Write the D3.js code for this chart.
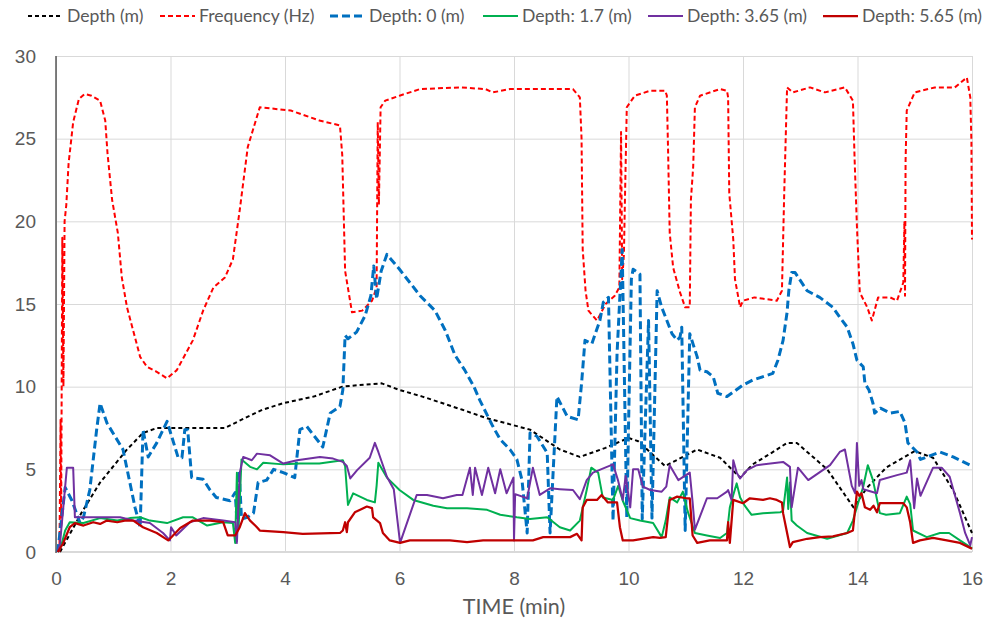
<!DOCTYPE html>
<html lang="en">
<head>
  <meta charset="UTF-8">
  <title>Depth / Frequency vs Time</title>
  <script src="https://d3js.org/d3.v7.min.js"></script>
  <style>
    body { margin: 0; background: #fff; }
    svg { display: block; font-family: Lato, "Open Sans", sans-serif; }
    .grid line { stroke: #d9d9d9; stroke-width: 1; }
    .tick text { fill: #595959; font-size: 19px; }
    .legend text { fill: #595959; font-size: 17.6px; }
    .series { fill: none; stroke-linejoin: round; }
  </style>
</head>
<body>
  <svg id="chart"></svg>
  <script>
    // time (min), value
    const depthM = [[0.07,0],[0.45,2.4],[0.77,4.2],[1.24,6.2],[1.52,7.2],[1.76,7.5],[2.95,7.5],[3.3,8.1],[3.6,8.6],[3.97,9.0],[4.5,9.4],[5.0,10.0],[5.3,10.1],[5.69,10.2],[6.0,9.8],[6.4,9.4],[7.1,8.6],[7.52,8.1],[8.28,7.4],[8.8,6.2],[9.15,5.75],[9.6,6.3],[10.0,6.9],[10.17,6.7],[10.64,5.2],[11.2,6.2],[11.6,5.7],[11.95,4.5],[12.17,5.3],[12.5,6.0],[12.77,6.6],[12.94,6.6],[13.47,5.0],[13.93,2.7],[14.17,3.9],[14.5,5.1],[15.0,6.1],[15.32,5.7],[15.67,3.75],[16.0,1.15]];

    const frequency = [[0.06,0],[0.08,8],[0.09,2],[0.11,19],[0.13,10],[0.15,20],[0.18,21],[0.22,23.5],[0.3,26],[0.4,27.4],[0.5,27.7],[0.62,27.6],[0.77,27.3],[0.86,26.1],[0.9,24.1],[0.98,21.3],[1.08,19.3],[1.15,16.6],[1.24,14.8],[1.47,11.8],[1.59,11.2],[1.76,10.9],[1.94,10.5],[2.11,11.0],[2.39,12.8],[2.57,14.6],[2.75,16.0],[2.95,16.6],[3.09,17.7],[3.21,20.7],[3.35,24.5],[3.56,26.9],[4.1,26.7],[4.6,26.1],[4.96,25.8],[5.0,24],[5.05,17],[5.17,14.5],[5.35,14.6],[5.52,15.2],[5.6,16],[5.62,26],[5.64,21],[5.67,26.9],[5.75,27.3],[6.0,27.6],[6.36,28.0],[7.06,28.1],[7.5,28.0],[7.63,27.8],[7.93,28.0],[9.03,28.0],[9.15,27.5],[9.18,25],[9.2,18.3],[9.25,15.8],[9.3,14.6],[9.45,14.0],[9.6,15],[9.76,15.5],[9.84,16],[9.87,25.4],[9.89,16.5],[9.92,18],[9.94,21.7],[9.97,26.9],[10.11,27.6],[10.38,27.9],[10.64,27.9],[10.67,27.6],[10.69,24.5],[10.72,19.3],[10.78,17.2],[10.9,15.7],[10.99,14.8],[11.07,14.8],[11.09,21.3],[11.13,23.3],[11.16,26.9],[11.25,27.6],[11.6,28.0],[11.72,27.9],[11.74,27.5],[11.76,21.7],[11.83,18.9],[11.86,16.5],[11.95,14.8],[12.0,15.2],[12.2,15.4],[12.59,15.2],[12.68,15.8],[12.72,21.7],[12.77,28.1],[12.87,27.8],[13.17,28.1],[13.43,27.8],[13.78,28.1],[13.92,27.3],[13.95,23.7],[13.99,19.7],[14.04,15.7],[14.17,14.8],[14.25,14.0],[14.36,15.4],[14.57,15.4],[14.69,15.2],[14.8,16.3],[14.82,20],[14.83,15.5],[14.84,23.7],[14.86,26.7],[15.0,27.8],[15.35,28.1],[15.7,28.1],[15.91,28.7],[15.97,27.5],[15.99,24.8],[16.0,18.9]];

    const depth0 = [[0.03,0],[0.16,3.9],[0.28,3.1],[0.42,1.75],[0.48,2.1],[0.59,3.75],[0.71,7.4],[0.77,9.0],[0.89,7.8],[1.17,6.2],[1.38,2.7],[1.47,1.5],[1.52,7.4],[1.61,5.75],[1.76,6.6],[1.94,7.9],[2.13,5.75],[2.2,5.7],[2.25,7.4],[2.3,7.4],[2.37,4.5],[2.57,4.4],[2.69,3.75],[2.8,3.3],[3.04,3.1],[3.13,3.6],[3.16,1.9],[3.2,4.9],[3.24,2.0],[3.34,2.1],[3.45,2.35],[3.53,4.2],[3.68,4.35],[3.8,5.0],[3.97,4.8],[4.17,4.5],[4.26,7.4],[4.38,7.6],[4.66,6.35],[4.79,8.4],[4.96,8.8],[5.01,9.8],[5.05,13.1],[5.1,12.9],[5.25,13.3],[5.4,14.3],[5.5,15.5],[5.55,17.3],[5.6,15.3],[5.68,17.0],[5.78,18.0],[6.0,17.1],[6.36,15.5],[6.62,14.6],[6.8,13.4],[6.97,11.9],[7.14,11.0],[7.3,10.0],[7.4,9.2],[7.63,7.6],[7.76,6.8],[7.93,6.2],[8.05,5.6],[8.14,4.35],[8.23,1.15],[8.28,7.2],[8.4,7.0],[8.58,6.0],[8.63,1.15],[8.75,9.4],[8.93,8.2],[9.12,8.0],[9.18,10.2],[9.24,12.8],[9.36,12.6],[9.5,14.0],[9.56,15.1],[9.65,15.4],[9.73,1.9],[9.8,12],[9.89,18.3],[9.97,2.1],[10.05,16.5],[10.08,17.1],[10.2,16.8],[10.24,2.0],[10.35,14],[10.41,2.05],[10.5,15.8],[10.58,14.8],[10.76,13.2],[10.85,12.8],[10.9,13.0],[10.93,13.6],[10.99,1.3],[11.07,13.2],[11.2,11.8],[11.25,11.0],[11.37,10.9],[11.48,10.6],[11.56,9.6],[11.72,9.4],[12.0,10.1],[12.17,10.4],[12.52,10.8],[12.61,11.6],[12.7,12.8],[12.77,14.5],[12.8,15.8],[12.85,16.9],[12.91,16.9],[13.12,15.8],[13.34,15.4],[13.57,14.8],[13.69,14.2],[13.82,13.6],[13.92,12.6],[13.99,11.6],[14.1,11.2],[14.13,10.2],[14.2,9.8],[14.27,9.0],[14.3,8.4],[14.4,8.7],[14.57,8.4],[14.74,8.5],[14.83,7.8],[14.88,6.6],[15.04,6.05],[15.1,5.6],[15.21,5.75],[15.44,6.05],[15.67,5.75],[16.0,5.2]];

    const depth17 = [[0.03,0],[0.1,0.5],[0.16,1.3],[0.24,1.8],[0.48,1.75],[0.77,2.05],[1.07,1.9],[1.29,2.05],[1.47,2.1],[1.64,1.9],[1.94,1.75],[2.22,2.1],[2.39,2.1],[2.64,1.6],[2.92,1.8],[3.09,1.75],[3.13,0.55],[3.16,4.8],[3.19,1.5],[3.24,5.6],[3.39,5.15],[3.51,5.0],[3.62,5.4],[3.97,5.3],[4.26,5.35],[4.6,5.35],[5.01,5.55],[5.05,5.2],[5.1,2.85],[5.19,3.55],[5.43,3.15],[5.57,3.0],[5.6,4.0],[5.63,5.4],[5.78,4.5],[6.0,3.75],[6.24,3.15],[6.59,2.8],[6.83,2.65],[7.18,2.65],[7.53,2.55],[7.76,2.25],[8.05,2.1],[8.28,2.0],[8.58,2.1],[8.8,1.5],[8.98,1.3],[9.15,1.9],[9.27,3.75],[9.35,5.1],[9.47,4.8],[9.55,3.3],[9.73,3.15],[9.82,4.0],[9.9,3.1],[10.03,2.05],[10.2,1.9],[10.43,1.75],[10.58,0.9],[10.65,1.9],[10.72,3.3],[10.85,3.0],[10.95,3.65],[11.03,2.5],[11.16,1.15],[11.37,1.0],[11.6,0.85],[11.72,1.15],[11.77,2.7],[11.83,3.45],[11.89,4.15],[11.95,3.3],[12.03,2.8],[12.15,2.25],[12.35,2.35],[12.65,2.4],[12.7,2.5],[12.77,4.5],[12.79,2.6],[12.82,4.2],[12.85,1.9],[12.94,1.6],[13.12,1.15],[13.47,0.8],[13.82,1.15],[13.92,1.9],[14.01,2.95],[14.1,3.95],[14.18,5.25],[14.27,4.35],[14.39,2.35],[14.5,2.25],[14.74,2.35],[14.86,3.35],[14.92,2.9],[14.97,1.3],[15.21,0.9],[15.44,1.15],[15.6,1.15],[15.79,0.7],[15.97,0.3],[16.0,0.2]];

    const depth365 = [[0.03,0],[0.07,0.5],[0.19,5.1],[0.3,5.1],[0.33,2.1],[1.12,2.1],[1.35,1.9],[1.64,1.75],[1.87,1.15],[1.99,0.7],[2.01,1.5],[2.1,1.0],[2.34,1.8],[2.57,2.05],[2.92,1.9],[3.13,1.8],[3.16,0.55],[3.21,4.8],[3.27,5.75],[3.42,5.55],[3.51,5.95],[3.74,5.85],[3.97,5.35],[4.21,5.55],[4.61,5.75],[4.84,5.65],[5.01,5.45],[5.08,5.2],[5.14,4.45],[5.26,4.95],[5.48,5.7],[5.57,6.6],[5.63,6.05],[5.78,4.55],[5.9,3.8],[6.01,0.55],[6.3,3.45],[6.48,3.45],[6.76,3.25],[7.0,3.45],[7.1,3.45],[7.23,5.1],[7.28,3.45],[7.32,5.1],[7.44,3.45],[7.55,5.1],[7.67,3.55],[7.76,5.0],[7.87,3.55],[7.99,4.5],[8.0,0.7],[8.02,3.5],[8.23,3.25],[8.33,5.1],[8.45,3.45],[8.63,3.85],[8.8,3.8],[9.03,3.75],[9.15,3.2],[9.27,4.35],[9.38,4.8],[9.73,5.3],[9.82,4.3],[9.9,3.15],[9.95,4.6],[10.03,2.7],[10.08,5.0],[10.17,5.0],[10.25,3.95],[10.38,3.75],[10.58,3.65],[10.66,3.95],[10.72,5.25],[10.87,4.35],[11.07,4.8],[11.12,3.0],[11.16,1.35],[11.37,3.25],[11.55,3.25],[11.72,3.65],[11.74,3.75],[11.8,3.15],[11.83,5.55],[11.89,4.8],[11.95,4.45],[12.07,4.95],[12.24,5.25],[12.7,5.45],[12.82,5.15],[12.85,2.7],[12.96,5.1],[13.14,4.35],[13.52,5.25],[13.69,6.05],[13.78,6.2],[13.9,4.0],[13.96,3.55],[13.99,6.6],[14.03,4.0],[14.07,4.35],[14.1,3.8],[14.34,3.55],[14.39,4.35],[14.69,4.65],[14.86,4.8],[14.92,5.55],[14.99,2.65],[15.04,4.45],[15.1,3.4],[15.32,5.1],[15.47,5.1],[15.61,4.55],[15.79,2.35],[15.88,1.15],[15.97,0.4],[16.0,0.9]];

    const depth565 = [[0.03,0],[0.12,0.5],[0.24,1.5],[0.33,1.75],[0.48,1.6],[0.65,1.8],[0.77,1.7],[0.89,1.9],[1.07,1.8],[1.2,1.9],[1.35,1.9],[1.52,1.5],[1.76,1.15],[1.96,0.7],[2.17,1.45],[2.39,1.9],[2.69,1.9],[2.92,1.8],[3.0,1.0],[3.13,1.0],[3.21,1.5],[3.3,2.35],[3.39,1.9],[3.51,1.5],[3.56,1.3],[3.97,1.2],[4.31,1.1],[4.96,1.15],[5.01,1.3],[5.05,1.8],[5.08,1.2],[5.1,1.8],[5.22,2.4],[5.43,2.75],[5.52,2.65],[5.54,2.1],[5.66,1.75],[5.71,1.15],[5.83,0.7],[6.01,0.55],[6.18,0.7],[6.88,0.7],[7.18,0.6],[7.46,0.7],[8.33,0.7],[8.51,0.9],[8.8,0.9],[8.98,0.9],[9.1,1.1],[9.18,0.7],[9.2,2.7],[9.27,3.15],[9.45,3.15],[9.53,3.45],[9.64,3.0],[9.8,3.0],[9.85,1.5],[9.9,0.7],[10.08,0.7],[10.43,0.9],[10.55,0.85],[10.65,0.9],[10.72,3.15],[10.85,3.35],[11.01,3.25],[11.07,3.25],[11.12,1.0],[11.2,0.55],[11.42,0.7],[11.72,0.7],[11.74,1.8],[11.77,0.55],[11.83,3.15],[12.0,2.95],[12.12,3.25],[12.35,3.15],[12.47,3.25],[12.59,3.15],[12.68,3.0],[12.7,2.35],[12.75,1.5],[12.82,0.3],[12.87,0.6],[13.12,0.8],[13.34,0.9],[13.57,0.95],[13.82,1.15],[13.92,1.3],[13.99,3.65],[14.03,3.4],[14.07,3.55],[14.13,2.7],[14.22,2.55],[14.28,2.8],[14.34,2.4],[14.39,2.95],[14.8,2.95],[14.86,2.7],[14.92,1.8],[14.97,0.55],[15.09,0.7],[15.32,0.85],[15.56,0.7],[15.79,0.55],[15.97,0.25],[16.0,0.2]];

    const xTicks = [0, 2, 4, 6, 8, 10, 12, 14, 16];
    const yTicks = [0, 5, 10, 15, 20, 25, 30];
    const seriesNames = ["Depth (m)", "Frequency (Hz)", "Depth: 0 (m)", "Depth: 1.7 (m)", "Depth: 3.65 (m)", "Depth: 5.65 (m)"];
    const xTitle = "TIME (min)";

    const width = 984, height = 626;
    const margin = { top: 56, right: 12, bottom: 74, left: 56 };

    const series = [
      { name: seriesNames[0], data: depthM, color: "#000000", w: 2, dash: "4,3" },
      { name: seriesNames[1], data: frequency, color: "#ff0000", w: 2, dash: "5,3" },
      { name: seriesNames[2], data: depth0, color: "#0070c0", w: 3, dash: "8,4" },
      { name: seriesNames[3], data: depth17, color: "#00b050", w: 2, dash: null },
      { name: seriesNames[4], data: depth365, color: "#7030a0", w: 2, dash: null },
      { name: seriesNames[5], data: depth565, color: "#c00000", w: 2.25, dash: null }
    ];

    const svg = d3.select("#chart").attr("width", width).attr("height", height);

    const x = d3.scaleLinear().domain([0, 16]).range([margin.left, width - margin.right]);
    const y = d3.scaleLinear().domain([0, 30]).range([height - margin.bottom, margin.top]);

    // gridlines + labels
    svg.append("g")
      .attr("class", "grid")
      .attr("transform", `translate(${margin.left},0)`)
      .call(d3.axisLeft(y).tickValues(yTicks).tickSize(-(width - margin.left - margin.right)).tickSizeOuter(0).tickPadding(20))
      .call(g => g.select(".domain").remove());

    svg.append("g")
      .attr("class", "grid")
      .attr("transform", `translate(0,${height - margin.bottom})`)
      .call(d3.axisBottom(x).tickValues(xTicks).tickSize(-(height - margin.top - margin.bottom)).tickSizeOuter(0).tickPadding(20))
      .call(g => g.select(".domain").remove());

    // bottom axis line (light) and left axis line (dark)
    svg.append("line")
      .attr("x1", x(0)).attr("x2", x(16))
      .attr("y1", y(0)).attr("y2", y(0))
      .attr("stroke", "#d9d9d9").attr("stroke-width", 2);
    svg.append("line")
      .attr("x1", x(0)).attr("x2", x(0))
      .attr("y1", y(0) + 1).attr("y2", y(30))
      .attr("stroke", "#404040").attr("stroke-width", 1.3);

    const line = d3.line().x(d => x(d[0])).y(d => y(d[1]));

    svg.append("g")
      .selectAll("path")
      .data(series)
      .join("path")
      .attr("class", "series")
      .attr("d", d => line(d.data))
      .attr("stroke", d => d.color)
      .attr("stroke-width", d => d.w)
      .attr("stroke-dasharray", d => d.dash);

    svg.append("text")
      .attr("x", (x(0) + x(16)) / 2)
      .attr("y", 614)
      .attr("text-anchor", "middle")
      .attr("fill", "#595959")
      .style("font-size", "21.5px")
      .text(xTitle);

    // legend
    const legendX = [28, 160, 330, 483, 648, 823];
    const legend = svg.append("g").attr("class", "legend");
    const items = legend.selectAll("g")
      .data(series)
      .join("g")
      .attr("transform", (d, i) => `translate(${legendX[i]},16)`);
    items.append("line")
      .attr("x1", 0).attr("x2", 35)
      .attr("stroke", d => d.color)
      .attr("stroke-width", d => d.w)
      .attr("stroke-dasharray", d => d.dash);
    items.append("text")
      .attr("x", 39)
      .attr("dy", "0.35em")
      .text(d => d.name);
  </script>
</body>
</html>
